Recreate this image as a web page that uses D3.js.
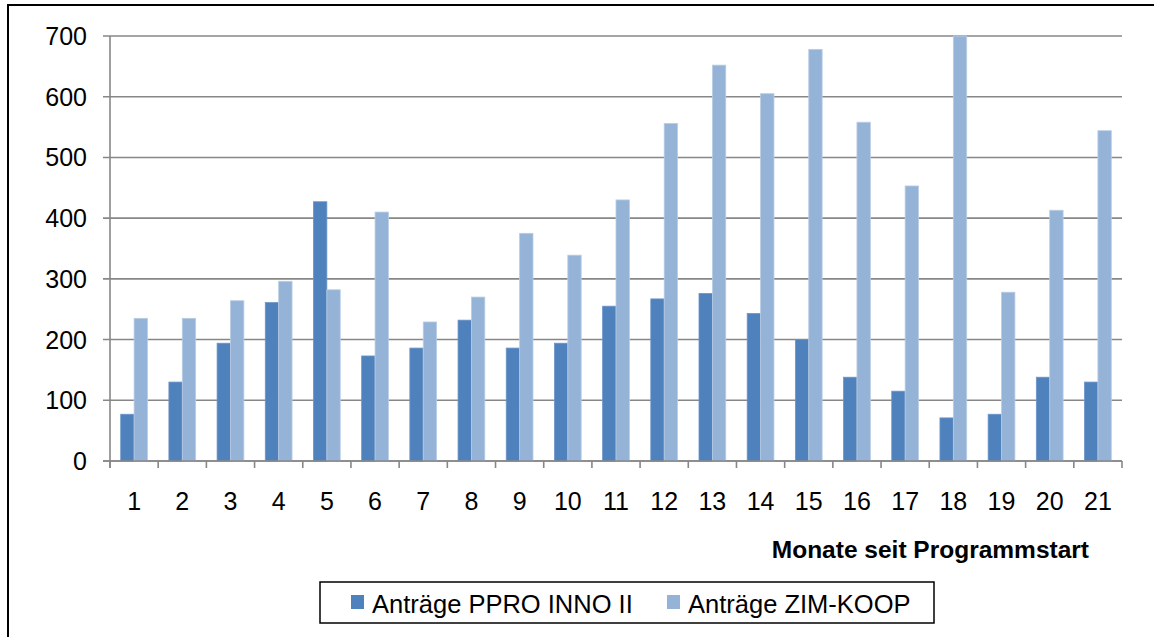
<!DOCTYPE html>
<html>
<head>
<meta charset="utf-8">
<script src="https://cdn.jsdelivr.net/npm/d3@7"></script>
<style>
  html, body { margin: 0; padding: 0; background: #fff; }
  svg { display: block; font-family: "Liberation Sans", Arial, sans-serif; }
</style>
</head>
<body>
<svg id="chart" width="1154" height="637"></svg>
<script>
const months = ["1","2","3","4","5","6","7","8","9","10","11","12","13","14","15","16","17","18","19","20","21"];
const pproInno = [77,130,194,261,427,173,186,232,186,194,255,267,276,243,200,138,115,71,77,138,130];
const zimKoop = [235,235,264,296,282,410,229,270,375,339,430,556,652,605,678,558,453,700,278,413,544];
const yTicks = [0,100,200,300,400,500,600,700];
const seriesNames = ["Anträge PPRO INNO II", "Anträge ZIM-KOOP"];
const xTitle = "Monate seit Programmstart";

const colors = ["#4F81BD", "#95B3D7"];
const svg = d3.select("#chart");

// outer frame
svg.append("rect").attr("x", 8).attr("y", 5).attr("width", 1160).attr("height", 650)
  .attr("fill", "#fff").attr("stroke", "#000").attr("stroke-width", 2);

const plot = { left: 110, right: 1122, top: 36, bottom: 461 };

const x = d3.scaleBand().domain(months).range([plot.left, plot.right]).paddingInner(0).paddingOuter(0);
const y = d3.scaleLinear().domain([0, 700]).range([plot.bottom, plot.top]);
const sub = d3.scaleBand().domain([0,1]).range([0, x.bandwidth()]).paddingInner(0).paddingOuter(0.8);

// gridlines + y ticks
const gy = svg.append("g");
gy.selectAll("line.grid").data(yTicks).join("line")
  .attr("x1", plot.left - 7).attr("x2", plot.right)
  .attr("y1", d => y(d)).attr("y2", d => y(d))
  .attr("stroke", "#878787").attr("stroke-width", 1.6);
gy.selectAll("text").data(yTicks).join("text")
  .attr("x", 87).attr("y", d => y(d)).attr("dy", "0.36em")
  .attr("text-anchor", "end").attr("font-size", 25).attr("fill", "#000")
  .text(d => d);

// bars
const data = months.map((m, i) => ({ m, vals: [pproInno[i], zimKoop[i]] }));
const groups = svg.append("g").selectAll("g").data(data).join("g")
  .attr("transform", d => `translate(${x(d.m)},0)`);
groups.selectAll("rect").data(d => d.vals.map((v, k) => ({ v, k }))).join("rect")
  .attr("x", d => sub(d.k)).attr("width", sub.bandwidth())
  .attr("y", d => y(d.v)).attr("height", d => y(0) - y(d.v))
  .attr("fill", d => colors[d.k])
  .attr("stroke", d => d.k === 0 ? "#6b95c8" : "#b9cde5").attr("stroke-width", 0.8);

// axes lines
svg.append("line").attr("x1", plot.left).attr("x2", plot.left).attr("y1", plot.top).attr("y2", plot.bottom + 7)
  .attr("stroke", "#878787").attr("stroke-width", 1.6);
svg.append("line").attr("x1", plot.left - 7).attr("x2", plot.right).attr("y1", plot.bottom).attr("y2", plot.bottom)
  .attr("stroke", "#878787").attr("stroke-width", 1.6);
const bounds = months.map(m => x(m)).concat([plot.right]);
svg.append("g").selectAll("line").data(bounds).join("line")
  .attr("x1", d => d).attr("x2", d => d).attr("y1", plot.bottom).attr("y2", plot.bottom + 7)
  .attr("stroke", "#878787").attr("stroke-width", 1.6);

// x labels
svg.append("g").selectAll("text").data(months).join("text")
  .attr("x", d => x(d) + x.bandwidth() / 2).attr("y", 510)
  .attr("text-anchor", "middle").attr("font-size", 25).attr("fill", "#000")
  .text(d => d);

// x title
svg.append("text").attr("x", 1089).attr("y", 558).attr("text-anchor", "end")
  .attr("font-size", 24.5).attr("font-weight", "bold").attr("fill", "#000").text(xTitle);

// legend
const lg = svg.append("g");
lg.append("rect").attr("x", 320).attr("y", 582).attr("width", 614).attr("height", 41)
  .attr("fill", "#fff").attr("stroke", "#000").attr("stroke-width", 1.5);
const legX = [351, 667];
seriesNames.forEach((name, i) => {
  lg.append("rect").attr("x", legX[i]).attr("y", 595).attr("width", 13).attr("height", 14).attr("fill", colors[i]);
  lg.append("text").attr("x", legX[i] + 21).attr("y", 613).attr("font-size", 25.5).attr("fill", "#000").text(name);
});
</script>
</body>
</html>
